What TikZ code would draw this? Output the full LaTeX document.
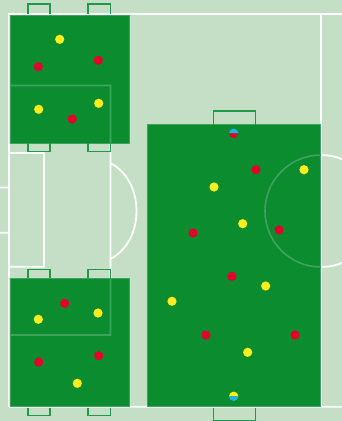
\documentclass[tikz,border=0pt]{standalone}
\definecolor{pitchbg}{HTML}{C4DFC5}
\definecolor{zonegreen}{HTML}{0B8C2F}
\definecolor{zoneedge}{HTML}{3FA35F}
\definecolor{goalgreen}{HTML}{1F9A48}
\definecolor{dotred}{HTML}{E4002B}
\definecolor{dotyellow}{HTML}{FFED1F}
\definecolor{dotblue}{HTML}{1FB4E8}
\tikzset{
  whiteline/.style={draw=white,line width=1.8pt},
  faintline/.style={draw=zoneedge,line width=1.6pt},
  zone/.style={fill=zonegreen,draw=zoneedge,line width=0.5pt},
  goalframe/.style={draw=goalgreen,line width=1.5pt},
  reddot/.style={fill=dotred},
  yellowdot/.style={fill=dotyellow}
}
\newcommand{\pitchlines}{
  (9,406.8) -- (9,14) -- (342,14)
  (9,406.8) -- (342,406.8)
  (321,14) -- (321,406.8)
  (9,153) -- (44,153) -- (44,266.7) -- (9,266.7)
  (9,85.5) -- (110.5,85.5) -- (110.5,335) -- (9,335)
  (0,187.4) -- (9,187.4)
  (0,232.7) -- (9,232.7)
  (321,211) circle[radius=56]
  (110.5,163) .. controls (127,172) and (136.5,190) .. (136.5,211) .. controls (136.5,232) and (127,250) .. (110.5,259)
}
\newcommand{\zonerects}{
  (9.9,15.1) rectangle (129.5,143)
  (9.9,278) rectangle (129.5,406)
  (147.7,124.7) rectangle (320,406)
}
\begin{document}
\begin{tikzpicture}[x=1pt,y=-1pt]
\useasboundingbox (0,0) rectangle (342,421);
\fill[pitchbg] (0,0) rectangle (342,421);
\begin{scope}
\clip (0,0) rectangle (342,421);
\draw[whiteline] \pitchlines;
\path[zone] \zonerects;
\begin{scope}
\clip \zonerects;
\draw[faintline] \pitchlines;
\end{scope}
% goals
\draw[goalframe] (28,14) -- (28,4) -- (50,4) -- (50,14);
\draw[goalframe] (88,14) -- (88,4) -- (110.5,4) -- (110.5,14);
\draw[goalframe] (28,143) -- (28,151.3) -- (50,151.3) -- (50,143);
\draw[goalframe] (88,143) -- (88,151.3) -- (110.5,151.3) -- (110.5,143);
\draw[goalframe] (28,278) -- (28,269.3) -- (50,269.3) -- (50,278);
\draw[goalframe] (88,278) -- (88,269.3) -- (110.5,269.3) -- (110.5,278);
\draw[goalframe] (28,407.6) -- (28,415.5) -- (50,415.5) -- (50,407.6);
\draw[goalframe] (88,407.6) -- (88,415.5) -- (110.5,415.5) -- (110.5,407.6);
\draw[goalframe] (213.7,124.5) -- (213.7,111) -- (255.5,111) -- (255.5,124.5);
\draw[goalframe] (213.7,407.6) -- (213.7,420.6) -- (255.5,420.6) -- (255.5,407.6);
\end{scope}
% players
\foreach \x/\y in {38.3/66.7,98.3/60.3,72.3/119,64.7/303.3,38.7/362,98.7/355.7,256/169.7,193/233,279/230,232/276.3,206/335,295/335}
  \fill[reddot] (\x,\y) circle[radius=4.6];
\foreach \x/\y in {59.7/39.3,38.7/109.3,98.7/103.3,98/313,38.3/319.3,77.3/383.3,304/169.7,214/187,242.7/223.7,265.7/286,172/301.3,247.7/352.3}
  \fill[yellowdot] (\x,\y) circle[radius=4.6];
% goalkeepers
\fill[dotblue] (229,133.3) arc[start angle=180,end angle=360,radius=4.7] -- cycle;
\fill[dotred] (229,133.3) arc[start angle=180,end angle=0,radius=4.7] -- cycle;
\fill[dotyellow] (229,396.3) arc[start angle=180,end angle=360,radius=4.7] -- cycle;
\fill[dotblue] (229,396.3) arc[start angle=180,end angle=0,radius=4.7] -- cycle;
\end{tikzpicture}
\end{document}
